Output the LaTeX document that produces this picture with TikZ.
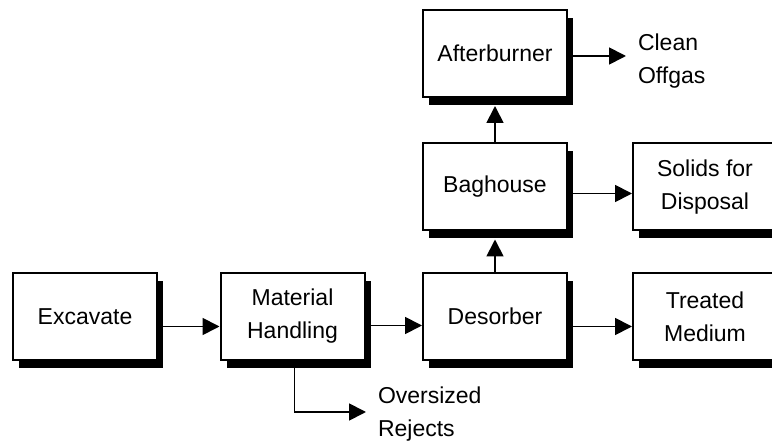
\documentclass[tikz,border=0pt]{standalone}
\usepackage{fontspec}
\setmainfont{Liberation Sans}
\usetikzlibrary{arrows.meta, shadows}

\tikzset{
  stage/.style={rectangle, draw, fill=white, line width=2pt, minimum width=144pt, minimum height=87pt, inner sep=0pt, align=center,
    drop shadow={shadow xshift=6pt, shadow yshift=-8pt, fill=black, opacity=1}},
  outlet/.style={align=left, inner sep=0pt, outer xsep=12pt, anchor=west},
  flow/.style={line width=1.8pt, -{Triangle[length=17pt, width=17pt]}}
}

\begin{document}
\begin{tikzpicture}[x=1pt, y=-1pt, font=\fontsize{23}{33}\selectfont]
      \useasboundingbox (0,0) rectangle (772,446);
      \clip (0,0) rectangle (772,446);

      \node[stage] (exc) at (85,316.5) {Excavate};
      \node[stage] (mat) at (292.5,316.5) {Material\\Handling};
      \node[stage] (des) at (495,316.5) {Desorber};
      \node[stage] (trt) at (705,316.5) {Treated\\Medium};
      \node[stage] (bag) at (495,187) {Baghouse};
      \node[stage] (sol) at (705,187) {Solids for\\Disposal};
      \node[stage] (aft) at (495,53.5) {Afterburner};

      \node[outlet] (rej) at (366,414) {Oversized\\Rejects};
      \node[outlet] (cln) at (626,61) {Clean\\Offgas};

      \draw[flow] ([yshift=-10pt]exc.east) -- ([yshift=-10pt]mat.west);
      \draw[flow] ([yshift=-9pt]mat.east) -- ([yshift=-9pt]des.west);
      \draw[flow] ([yshift=-10pt]des.east) -- ([yshift=-10pt]trt.west);
      \draw[flow] ([xshift=2pt]mat.south) |- ([yshift=2pt]rej.west);
      \draw[flow] (des.north) -- ([yshift=-8pt]bag.south);
      \draw[flow] (bag.north) -- ([yshift=-8pt]aft.south);
      \draw[flow] ([yshift=-6.5pt]bag.east) -- ([yshift=-6.5pt]sol.west);
      \draw[flow] ([yshift=-2.5pt]aft.east) -- ([yshift=-2.5pt]aft.east -| cln.west);
\end{tikzpicture}
\end{document}
